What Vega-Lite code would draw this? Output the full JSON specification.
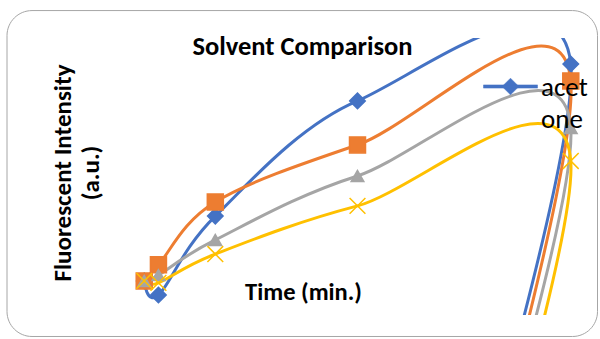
{
  "$schema": "https://vega.github.io/schema/vega-lite/v6.json",
  "width": 455,
  "height": 277,
  "autosize": {"type": "none"},
  "padding": {"left": 130, "top": 38, "right": 15, "bottom": 24},
  "background": "white",
  "config": {"view": {"stroke": null}, "font": "Carlito, Lato"},
  "title": {
    "text": "Solvent Comparison",
    "fontSize": 26.5,
    "fontWeight": "bold",
    "font": "Carlito, Lato",
    "color": "#000000",
    "anchor": "middle",
    "frame": "group",
    "dx": -55,
    "dy": 52,
    "offset": -19,
    "baseline": "alphabetic"
  },
  "data": {
    "values": [
      {"series": "acetone", "i": 0, "time": 0, "value": 12.3},
      {"series": "acetone", "i": 1, "time": 1, "value": 7.2},
      {"series": "acetone", "i": 2, "time": 5, "value": 35.7},
      {"series": "acetone", "i": 3, "time": 15, "value": 77.3},
      {"series": "acetone", "i": 4, "time": 30, "value": 90.6},
      {"series": "acetone", "i": 5, "time": 19.04, "value": -139.4},
      {"series": "ethanol", "i": 0, "time": 0, "value": 12.3},
      {"series": "ethanol", "i": 1, "time": 1, "value": 18.1},
      {"series": "ethanol", "i": 2, "time": 5, "value": 40.8},
      {"series": "ethanol", "i": 3, "time": 15, "value": 61.4},
      {"series": "ethanol", "i": 4, "time": 30, "value": 84.5},
      {"series": "ethanol", "i": 5, "time": 18.83, "value": -155.2},
      {"series": "methanol", "i": 0, "time": 0, "value": 12.3},
      {"series": "methanol", "i": 1, "time": 1, "value": 14.4},
      {"series": "methanol", "i": 2, "time": 5, "value": 27.1},
      {"series": "methanol", "i": 3, "time": 15, "value": 50.2},
      {"series": "methanol", "i": 4, "time": 30, "value": 67.5},
      {"series": "methanol", "i": 5, "time": 17.99, "value": -166.4},
      {"series": "water", "i": 0, "time": 0, "value": 12.3},
      {"series": "water", "i": 1, "time": 1, "value": 11.6},
      {"series": "water", "i": 2, "time": 5, "value": 22.0},
      {"series": "water", "i": 3, "time": 15, "value": 39.4},
      {"series": "water", "i": 4, "time": 30, "value": 55.6},
      {"series": "water", "i": 5, "time": 18.06, "value": -177.3}
    ]
  },
  "layer": [
    {
      "data": {"values": [{}]},
      "mark": {"type": "rect", "fill": null, "stroke": "#a6a6a6", "strokeWidth": 1, "cornerRadius": 25, "clip": false},
      "encoding": {
        "x": {"datum": -9.65, "type": "quantitative"},
        "x2": {"datum": 31.88},
        "y": {"datum": 109.9, "type": "quantitative"},
        "y2": {"datum": -7.76}
      }
    },
    {
      "mark": {"type": "line", "interpolate": "cardinal", "strokeWidth": 3, "strokeCap": "round", "clip": true},
      "encoding": {
        "x": {
          "field": "time", "type": "quantitative",
          "scale": {"domain": [-1, 31], "nice": false, "zero": false},
          "axis": {
            "title": "Time (min.)", "domain": false, "ticks": false, "labels": false, "grid": false,
            "titleX": 173, "titleY": -23, "titleBaseline": "middle", "titleAlign": "center",
            "titleFontSize": 24.5, "titleFontWeight": "bold", "titleColor": "#000000", "titleFont": "Carlito, Lato"
          }
        },
        "y": {
          "field": "value", "type": "quantitative",
          "scale": {"domain": [0, 100], "nice": false, "zero": false},
          "axis": {
            "title": ["Fluorescent Intensity", "(a.u.)"], "domain": false, "ticks": false, "labels": false, "grid": false,
            "titleX": -68, "titleY": 134.5, "titleBaseline": "middle", "titleAlign": "center", "titleAngle": -90,
            "titleLineHeight": 28,
            "titleFontSize": 25, "titleFontWeight": "bold", "titleColor": "#000000", "titleFont": "Carlito, Lato"
          }
        },
        "order": {"field": "i", "type": "quantitative"},
        "color": {
          "field": "series", "type": "nominal",
          "scale": {"domain": ["acetone", "ethanol", "methanol", "water"], "range": ["#4472C4", "#ED7D31", "#A5A5A5", "#FFC000"]},
          "legend": {
            "values": ["acetone"],
            "title": null,
            "orient": "none",
            "legendX": 353,
            "legendY": 21,
            "padding": 0,
            "symbolType": "M-1,-0.06L1,-0.06L1,0.06L-1,0.06ZM-0.31,0L0,-0.31L0.31,0L0,0.31Z",
            "symbolSize": 2916,
            "symbolStrokeWidth": 0.5,
            "symbolFillColor": "#4472C4",
            "symbolStrokeColor": "#4472C4",
            "labelFontSize": 27,
            "labelFont": "Carlito, Lato",
            "labelColor": "#000000",
            "labelOffset": 3,
            "labelBaseline": "top",
            "labelExpr": "datum.label == 'acetone' ? ['acet', 'one'] : datum.label",
            "encode": {
              "symbols": {"update": {
                "stroke": {"value": "#4472C4"},
                "strokeWidth": {"value": 0.5},
                "fill": {"value": "#4472C4"},
                "fillOpacity": {"value": 1},
                "opacity": {"value": 1},
                "size": {"value": 2916},
                "shape": {"value": "M-1,-0.06L1,-0.06L1,0.06L-1,0.06ZM-0.31,0L0,-0.31L0.31,0L0,0.31Z"}
              }},
              "labels": {"update": {
                "lineHeight": {"value": 32},
                "dy": {"value": -12}
              }}
            }
          }
        }
      }
    },
    {
      "transform": [{"filter": "datum.i < 5 && datum.series == 'acetone'"}],
      "mark": {"type": "point", "shape": "diamond", "size": 240, "filled": true, "opacity": 1, "strokeWidth": 1.5, "clip": true},
      "encoding": {
        "x": {"field": "time", "type": "quantitative"},
        "y": {"field": "value", "type": "quantitative"},
        "fill": {"field": "series", "type": "nominal", "scale": {"domain": ["acetone", "ethanol", "methanol", "water"], "range": ["#4472C4", "#ED7D31", "#A5A5A5", "#FFC000"]}, "legend": null},
        "stroke": {"field": "series", "type": "nominal", "scale": {"domain": ["acetone", "ethanol", "methanol", "water"], "range": ["#4472C4", "#ED7D31", "#A5A5A5", "#FFC000"]}, "legend": null}
      }
    },
    {
      "transform": [{"filter": "datum.i < 5 && datum.series == 'ethanol'"}],
      "mark": {"type": "point", "shape": "square", "size": 256, "filled": true, "opacity": 1, "strokeWidth": 1.5, "clip": true},
      "encoding": {
        "x": {"field": "time", "type": "quantitative"},
        "y": {"field": "value", "type": "quantitative"},
        "fill": {"field": "series", "type": "nominal", "legend": null},
        "stroke": {"field": "series", "type": "nominal", "legend": null}
      }
    },
    {
      "transform": [{"filter": "datum.i < 5 && datum.series == 'methanol'"}],
      "mark": {"type": "point", "shape": "triangle-up", "size": 160, "filled": true, "opacity": 1, "strokeWidth": 1.5, "clip": true},
      "encoding": {
        "x": {"field": "time", "type": "quantitative"},
        "y": {"field": "value", "type": "quantitative"},
        "fill": {"field": "series", "type": "nominal", "legend": null},
        "stroke": {"field": "series", "type": "nominal", "legend": null}
      }
    },
    {
      "transform": [{"filter": "datum.i < 5 && datum.series == 'water'"}],
      "mark": {"type": "point", "shape": "M-1,-1L1,1M-1,1L1,-1", "size": 250, "filled": true, "opacity": 1, "strokeWidth": 1.5, "clip": true},
      "encoding": {
        "x": {"field": "time", "type": "quantitative"},
        "y": {"field": "value", "type": "quantitative"},
        "fill": {"field": "series", "type": "nominal", "legend": null},
        "stroke": {"field": "series", "type": "nominal", "legend": null}
      }
    }
  ]
}
